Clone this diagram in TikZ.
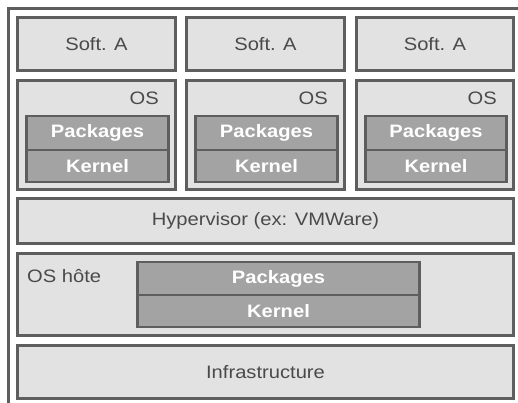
\documentclass[tikz,border=0pt]{standalone}
\usepackage{fontspec}
\setmainfont{Liberation Sans}[FakeStretch=1.12]
\definecolor{boxfill}{HTML}{E2E2E2}
\definecolor{innerfill}{HTML}{A3A3A3}
\definecolor{edge}{HTML}{5E5E5E}
\definecolor{txt}{HTML}{4A4A4A}
\tikzset{
  box/.style={draw=edge, fill=boxfill, line width=2.6pt, inner sep=0pt, text=txt, font=\fontsize{18}{20}\selectfont},
  inner/.style={draw=edge, fill=innerfill, line width=2.6pt, inner sep=0pt, text=white, font=\fontsize{18}{20}\selectfont\bfseries},
  lbl/.style={inner sep=0pt, text=txt, font=\fontsize{18}{20}\selectfont},
}
\begin{document}
\begin{tikzpicture}[x=1pt,y=-1pt]
\useasboundingbox (0,0) rectangle (518,403);
\fill[white] (0,0) rectangle (518,403);
% outer frame
\draw[edge, line width=3pt] (8.5,420) -- (8.5,8.5) -- (540,8.5);
% software row
\foreach \i/\xl/\xr in {1/16/177, 2/185/346, 3/355/515}{
  \node[box, minimum width={\xr-\xl-2.6}, minimum height=53.4] (soft\i) at ({(\xl+\xr)/2},44) {Soft. A};
  \node[box, minimum width={\xr-\xl-2.6}, minimum height=109.4] (os\i) at ({(\xl+\xr)/2},135) {};
  \node[lbl, anchor=east] (ost\i) at ({\xr-18},98) {OS};
  \node[inner, minimum width={\xr-\xl-16-2.6}, minimum height=34] (pk\i) at ({(\xl+9+\xr-7)/2},133) {Packages};
  \node[inner, minimum width={\xr-\xl-16-2.6}, minimum height=32] (kn\i) at ({(\xl+9+\xr-7)/2},166) {Kernel};
}
\node[box, minimum width=496.4, minimum height=45.4] (hyp) at (265.5,221) {Hypervisor (ex: VMWare)};
\node[box, minimum width=496.4, minimum height=82.4] (host) at (265.5,294.5) {};
\node[lbl, anchor=west] (hostt) at (27,276) {OS hôte};
\node[inner, minimum width=282.4, minimum height=33] (hpk) at (278.5,278.5) {Packages};
\node[inner, minimum width=282.4, minimum height=32] (hkn) at (278.5,311) {Kernel};
\node[box, minimum width=496.4, minimum height=53.4] (infra) at (265.5,372) {Infrastructure};
\end{tikzpicture}
\end{document}
